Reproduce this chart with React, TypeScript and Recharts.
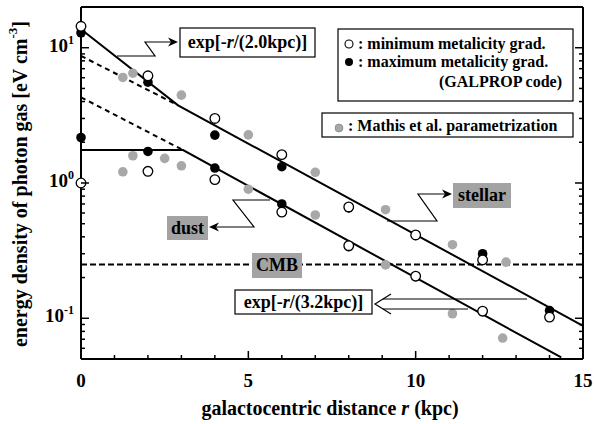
import React from "react";
import { ComposedChart, Line, Scatter, XAxis, YAxis, ReferenceLine } from "recharts";

const W = 594;
const H = 424;
const PLOT_LEFT = 81;
const PLOT_TOP = 7;
const PLOT_BOTTOM = 359;
const PLOT_RIGHT = 583;
const FONT = '"Liberation Serif", "Times New Roman", serif';
const GRAY_BOX = "#a3a3a3";
const GRAY_DOT = "#a8a8a8";

// GALPROP, minimum metalicity gradient (open circles)
const minGradR = [0, 0, 2, 2, 4, 4, 6, 6, 8, 8, 10, 10, 12, 12, 14];
const minGradU = [14.4, 1.0, 6.2, 1.22, 3.0, 1.06, 1.62, 0.61, 0.665, 0.344, 0.413, 0.205, 0.27, 0.113, 0.102];

// GALPROP, maximum metalicity gradient (filled circles)
const maxGradR = [0, 0, 2, 2, 4, 4, 6, 6, 8, 8, 10, 10, 12, 12, 14];
const maxGradU = [12.9, 2.17, 5.56, 1.71, 2.26, 1.29, 1.32, 0.7, 0.655, 0.338, 0.41, 0.203, 0.3, 0.112, 0.114];

// Mathis et al. parametrization (gray)
const mathisR = [1.25, 1.25, 1.55, 1.55, 2.5, 3.0, 3.0, 5, 5, 7, 7, 9.1, 9.1, 11.1, 11.1, 12.7, 12.6];
const mathisU = [6.03, 1.21, 6.48, 1.59, 1.52, 4.46, 1.34, 2.27, 0.9, 1.2, 0.58, 0.635, 0.248, 0.35, 0.108, 0.26, 0.0714];

// exponential fits
const stellarR = [0, 2.9, 15];
const stellarU = [13.7, 3.75, 0.088];
const stellarExtR = [0, 2.9];
const stellarExtU = [8.7, 3.75];
const dustR = [0, 3.05, 14.35];
const dustU = [1.75, 1.75, 0.0513];
const dustExtR = [0, 3.05];
const dustExtU = [4.3, 1.75];
const cmbU = 0.25;

const xTicks = [0, 1, 2, 3, 4, 5, 6, 7, 8, 9, 10, 11, 12, 13, 14, 15];
const xMajor = [0, 5, 10, 15];
const yTicks = [
  0.05, 0.06, 0.07, 0.08, 0.09, 0.1, 0.2, 0.3, 0.4, 0.5, 0.6, 0.7, 0.8, 0.9,
  1, 2, 3, 4, 5, 6, 7, 8, 9, 10, 20,
];
const yMajor = [0.1, 1, 10];
const yExpLabels = ["-1", "0", "1"];

const zip = (rs: number[], us: number[]) => rs.map((r, i) => ({ r, u: us[i] }));

const isMajorX = (v: number) => xMajor.includes(v);
const isMajorY = (v: number) => yMajor.some((m) => Math.abs(m - v) < 1e-9);

function BottomTick(props: any) {
  const { x, payload } = props;
  const major = isMajorX(payload.value);
  return (
    <g>
      <line x1={x} x2={x} y1={PLOT_BOTTOM} y2={PLOT_BOTTOM - (major ? 8 : 4)} stroke="#000" strokeWidth={1.5} />
      {major ? (
        <text x={x} y={387} textAnchor="middle" fontFamily={FONT} fontWeight="bold" fontSize={19} fill="#000">
          {payload.value}
        </text>
      ) : null}
    </g>
  );
}

function TopTick(props: any) {
  const { x, payload } = props;
  const major = isMajorX(payload.value);
  return <line x1={x} x2={x} y1={PLOT_TOP} y2={PLOT_TOP + (major ? 8 : 4)} stroke="#000" strokeWidth={1.5} />;
}

function LeftTick(props: any) {
  const { y, payload } = props;
  const major = isMajorY(payload.value);
  const idx = yMajor.findIndex((m) => Math.abs(m - payload.value) < 1e-9);
  return (
    <g>
      <line x1={PLOT_LEFT} x2={PLOT_LEFT + (major ? 8 : 4)} y1={y} y2={y} stroke="#000" strokeWidth={1.5} />
      {major ? (
        <text x={74} y={y + 4} textAnchor="end" fontFamily={FONT} fontWeight="bold" fontSize={19} fill="#000">
          10
          <tspan fontSize={12} dy={-8}>
            {yExpLabels[idx]}
          </tspan>
        </text>
      ) : null}
    </g>
  );
}

function RightTick(props: any) {
  const { y, payload } = props;
  const major = isMajorY(payload.value);
  return <line x1={PLOT_RIGHT} x2={PLOT_RIGHT - (major ? 8 : 4)} y1={y} y2={y} stroke="#000" strokeWidth={1.5} />;
}

const openDot = (p: any) => <circle cx={p.cx} cy={p.cy} r={4.8} fill="#fff" stroke="#000" strokeWidth={1.3} />;
const filledDot = (p: any) => <circle cx={p.cx} cy={p.cy} r={4.8} fill="#000" />;
const grayDot = (p: any) => <circle cx={p.cx} cy={p.cy} r={4.8} fill={GRAY_DOT} />;

function arrowHead(tx: number, ty: number, dir: 1 | -1) {
  return `M${tx},${ty} L${tx - dir * 10},${ty - 4.5} L${tx - dir * 7},${ty} L${tx - dir * 10},${ty + 4.5} Z`;
}

const txt = { fontFamily: FONT, fontWeight: "bold" as const, fill: "#000" };

function Annotations() {
  return (
    <svg width={W} height={H} style={{ position: "absolute", left: 0, top: 0, pointerEvents: "none" }}>
      {/* axis titles */}
      <text {...txt} fontSize={20} x={20} y={184} textAnchor="middle" transform="rotate(-90 20 184)" dominantBaseline="central">
        energy density of photon gas [eV cm
        <tspan fontSize={13} dy={-8}>-3</tspan>
        <tspan dy={8}>]</tspan>
      </text>
      <text {...txt} fontSize={20} x={330} y={415} textAnchor="middle">
        galactocentric distance{"  "}
        <tspan fontStyle="italic">r</tspan> (kpc)
      </text>

      {/* legend */}
      <rect x={338} y={29} width={235} height={72} fill="#fff" stroke="#000" strokeWidth={1.2} />
      <circle cx={349} cy={44} r={4} fill="#fff" stroke="#000" strokeWidth={1.1} />
      <text {...txt} fontSize={16} x={358} y={49}>: minimum metalicity grad.</text>
      <circle cx={349} cy={62} r={4} fill="#000" />
      <text {...txt} fontSize={16} x={358} y={67}>: maximum metalicity grad.</text>
      <text {...txt} fontSize={16} x={562} y={87} textAnchor="end">(GALPROP code)</text>
      <rect x={322} y={113} width={251} height={24} fill="#fff" stroke="#000" strokeWidth={1.2} />
      <circle cx={339} cy={128} r={4} fill={GRAY_DOT} stroke="#777" strokeWidth={0.6} />
      <text {...txt} fontSize={16} x={348} y={131}>: Mathis et al. parametrization</text>

      {/* exp 2.0 kpc */}
      <rect x={180} y={28} width={135} height={29} fill="#fff" stroke="#000" strokeWidth={1.2} />
      <text {...txt} fontSize={18} x={247.5} y={48} textAnchor="middle">
        exp[-<tspan fontStyle="italic">r</tspan>/(2.0kpc)]
      </text>
      <polyline points="117,56 155,56 145,42 171,42" fill="none" stroke="#000" strokeWidth={1.2} />
      <path d={arrowHead(178, 42, 1)} fill="#000" />

      {/* stellar */}
      <rect x={453} y={183} width={58} height={25} fill={GRAY_BOX} />
      <text {...txt} fontSize={18} x={482} y={201} textAnchor="middle">stellar</text>
      <polyline points="387,221 437,221 418,194 445,194" fill="none" stroke="#000" strokeWidth={1.2} />
      <path d={arrowHead(452, 194, 1)} fill="#000" />

      {/* dust */}
      <rect x={167} y={216} width={41} height={24} fill={GRAY_BOX} />
      <text {...txt} fontSize={18} x={187.5} y={234} textAnchor="middle">dust</text>
      <polyline points="270,200 233,200 254,227 216,227" fill="none" stroke="#000" strokeWidth={1.2} />
      <path d={arrowHead(209, 227, -1)} fill="#000" />

      {/* CMB */}
      <rect x={252} y={253} width={50} height={25} fill={GRAY_BOX} />
      <text {...txt} fontSize={18} x={277} y={271} textAnchor="middle">CMB</text>

      {/* exp 3.2 kpc */}
      <rect x={235} y={290} width={137} height={24} fill="#fff" stroke="#000" strokeWidth={1.2} />
      <text {...txt} fontSize={18} x={303.5} y={308} textAnchor="middle">
        exp[-<tspan fontStyle="italic">r</tspan>/(3.2kpc)]
      </text>
      <polyline points="391,294 375,304 391,314" fill="none" stroke="#000" strokeWidth={1.2} />
      <line x1={383} y1={299} x2={527} y2={299} stroke="#000" strokeWidth={1.2} />
      <line x1={383} y1={309} x2={468} y2={309} stroke="#000" strokeWidth={1.2} />
    </svg>
  );
}

export default function App() {
  const axisLine = { stroke: "#000", strokeWidth: 2 };
  return (
    <div style={{ position: "absolute", left: 0, top: 0, width: W, height: H, background: "#fff" }}>
      <ComposedChart width={W} height={H} margin={{ top: 0, right: 1, bottom: 0, left: 0 }}>
        <XAxis
          xAxisId="bottom"
          type="number"
          dataKey="r"
          domain={[0, 15]}
          ticks={xTicks}
          interval={0}
          tick={<BottomTick />}
          tickLine={false}
          axisLine={axisLine}
          height={65}
          orientation="bottom"
        />
        <XAxis
          xAxisId="top"
          type="number"
          dataKey="r"
          domain={[0, 15]}
          ticks={xTicks}
          interval={0}
          tick={<TopTick />}
          tickLine={false}
          axisLine={axisLine}
          height={PLOT_TOP}
          orientation="top"
        />
        <YAxis
          yAxisId="left"
          type="number"
          dataKey="u"
          scale="log"
          domain={[0.05, 20]}
          allowDataOverflow
          ticks={yTicks}
          interval={0}
          tick={<LeftTick />}
          tickLine={false}
          axisLine={axisLine}
          width={PLOT_LEFT}
        />
        <YAxis
          yAxisId="right"
          orientation="right"
          type="number"
          dataKey="u"
          scale="log"
          domain={[0.05, 20]}
          allowDataOverflow
          ticks={yTicks}
          interval={0}
          tick={<RightTick />}
          tickLine={false}
          axisLine={axisLine}
          width={W - 1 - PLOT_RIGHT}
        />
        <ReferenceLine xAxisId="bottom" yAxisId="left" y={cmbU} stroke="#000" strokeWidth={2} strokeDasharray="6 3" />
        <Line xAxisId="bottom" yAxisId="left" data={zip(stellarExtR, stellarExtU)} dataKey="u" type="linear" stroke="#000" strokeWidth={2} strokeDasharray="5 4" dot={false} isAnimationActive={false} />
        <Line xAxisId="bottom" yAxisId="left" data={zip(dustExtR, dustExtU)} dataKey="u" type="linear" stroke="#000" strokeWidth={2} strokeDasharray="5 4" dot={false} isAnimationActive={false} />
        <Line xAxisId="bottom" yAxisId="left" data={zip(stellarR, stellarU)} dataKey="u" type="linear" stroke="#000" strokeWidth={2} dot={false} isAnimationActive={false} />
        <Line xAxisId="bottom" yAxisId="left" data={zip(dustR, dustU)} dataKey="u" type="linear" stroke="#000" strokeWidth={2} dot={false} isAnimationActive={false} />
        <Scatter xAxisId="bottom" yAxisId="left" data={zip(mathisR, mathisU)} dataKey="u" shape={grayDot} isAnimationActive={false} />
        <Scatter xAxisId="bottom" yAxisId="left" data={zip(maxGradR, maxGradU)} dataKey="u" shape={filledDot} isAnimationActive={false} />
        <Scatter xAxisId="bottom" yAxisId="left" data={zip(minGradR, minGradU)} dataKey="u" shape={openDot} isAnimationActive={false} />
      </ComposedChart>
      <Annotations />
    </div>
  );
}
